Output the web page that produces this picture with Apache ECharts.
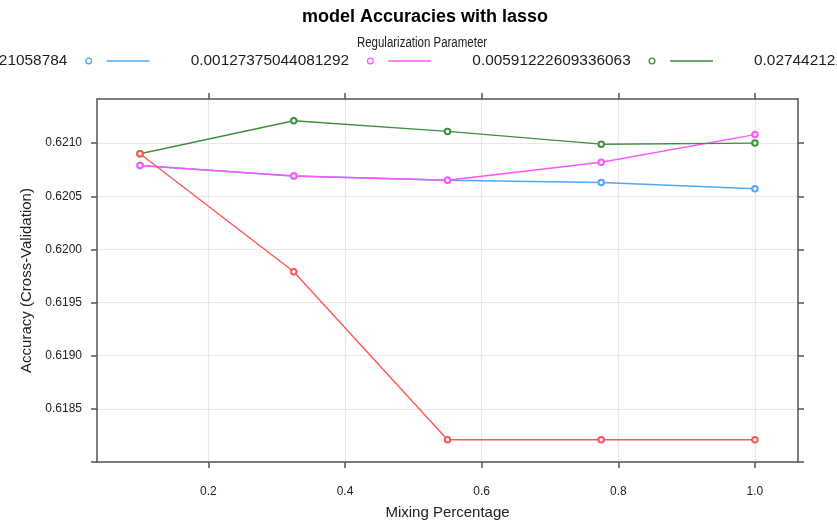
<!DOCTYPE html>
<html>
<head>
<meta charset="utf-8">
<script src="https://cdn.jsdelivr.net/npm/echarts@6/dist/echarts.min.js"></script>
<style>html,body{margin:0;padding:0;background:#fff}#c{width:837px;height:525px}</style>
</head>
<body>
<div id="c"></div>
<script>
// ---- data ----
const mixing = [0.1, 0.325, 0.55, 0.775, 1.0];
const lambdaNames = ['0.00027442121058784', '0.00127375044081292', '0.00591222609336063', '0.027442121058784'];
const accBlue    = [0.62079, 0.62069, 0.62065, 0.62063, 0.62057];
const accMagenta = [0.62079, 0.62069, 0.62065, 0.62082, 0.62108];
const accGreen   = [0.62090, 0.62121, 0.62111, 0.62099, 0.62100];
const accRed     = [0.62090, 0.61979, 0.61821, 0.61821, 0.61821];
const xTicks = [0.2, 0.4, 0.6, 0.8, 1.0];
const yTicks = [0.6180, 0.6185, 0.6190, 0.6195, 0.6200, 0.6205, 0.6210];
const yLabels = [0.6185, 0.6190, 0.6195, 0.6200, 0.6205, 0.6210];

const seriesValues = [accBlue, accMagenta, accGreen, accRed];
const colors = ['#4fa6ff', '#ff55ff', '#3f8f3f', '#ff5555'];

const FONT = '"Liberation Sans", Arial, sans-serif';
const AXC = '#555555';
const icon = 'path://M0,3.5 A3.5,3.5 0 1,1 7,3.5 A3.5,3.5 0 1,1 0,3.5 Z M1.3,3.5 A2.2,2.2 0 1,0 5.7,3.5 A2.2,2.2 0 1,0 1.3,3.5 Z M21.5,2.8 L64.5,2.8 L64.5,4.2 L21.5,4.2 Z';

const chart = echarts.init(document.getElementById('c'), null, {renderer: 'canvas'});
const option = {
  animation: false,
  color: colors,
  title: [
    {text: 'model Accuracies with lasso', left: 297, top: 3,
     textStyle: {fontFamily: FONT, fontSize: 18, fontWeight: 'bold', color: '#000'}}
  ],
  graphic: [
    {type: 'text', x: 422, y: 43, scaleX: 0.82, silent: true,
     style: {text: 'Regularization Parameter', align: 'center', verticalAlign: 'middle',
             fontFamily: FONT, fontSize: 14, fill: '#222'}}
  ],
  legend: {
    type: 'plain', orient: 'horizontal', left: -91, top: 53, width: 1600, padding: 0,
    align: 'right', itemGap: 41, itemWidth: 64.5, itemHeight: 7, icon: icon,
    itemStyle: {borderWidth: 0},
    formatter: n => n + '   ',
    textStyle: {fontFamily: FONT, fontSize: 15.4, color: '#1e1e1e', lineHeight: 16},
    data: lambdaNames
  },
  grid: {left: 97, right: 39, top: 99, bottom: 62, containLabel: false},
  xAxis: [
    {type: 'value', position: 'bottom', min: 0.037, max: 1.063,
     name: 'Mixing Percentage', nameLocation: 'middle', nameGap: 43,
     nameTextStyle: {fontFamily: FONT, fontSize: 15, color: '#222'},
     axisLine: {show: true, onZero: false, lineStyle: {color: AXC, width: 1.5}},
     axisTick: {show: true, inside: false, length: 6, customValues: xTicks, lineStyle: {color: AXC, width: 1.5}},
     axisLabel: {show: true, customValues: xTicks, margin: 24, fontFamily: FONT, fontSize: 12, color: '#222',
                 formatter: v => v.toFixed(1)},
     splitLine: {show: true, lineStyle: {color: '#e8e8e8', width: 1.2}}},
    {type: 'value', position: 'top', min: 0.037, max: 1.063,
     axisLine: {show: true, onZero: false, lineStyle: {color: AXC, width: 1.5}},
     axisTick: {show: true, inside: false, length: 6, customValues: xTicks, lineStyle: {color: AXC, width: 1.5}},
     axisLabel: {show: false}, splitLine: {show: false}}
  ],
  yAxis: [
    {type: 'value', position: 'left', min: 0.6180, max: 0.621415,
     name: 'Accuracy (Cross-Validation)', nameLocation: 'middle', nameGap: 61,
     nameTextStyle: {fontFamily: FONT, fontSize: 15, color: '#222'},
     axisLine: {show: true, onZero: false, lineStyle: {color: AXC, width: 1.5}},
     axisTick: {show: true, inside: false, length: 6, customValues: yTicks, lineStyle: {color: AXC, width: 1.5}},
     axisLabel: {show: true, customValues: yLabels, margin: 15, fontFamily: FONT, fontSize: 12, color: '#222',
                 formatter: v => v.toFixed(4)},
     splitLine: {show: true, lineStyle: {color: '#e8e8e8', width: 1.2}}},
    {type: 'value', position: 'right', min: 0.6180, max: 0.621415,
     axisLine: {show: true, onZero: false, lineStyle: {color: AXC, width: 1.5}},
     axisTick: {show: true, inside: false, length: 6, customValues: yTicks, lineStyle: {color: AXC, width: 1.5}},
     axisLabel: {show: false}, splitLine: {show: false}}
  ],
  series: lambdaNames.map((name, i) => ({
    name: name, type: 'line', xAxisIndex: 0, yAxisIndex: 0,
    data: mixing.map((x, j) => [x, seriesValues[i][j]]),
    symbol: 'emptyCircle', symbolSize: 5.5, showSymbol: true,
    lineStyle: {width: 1.4, color: colors[i]},
    itemStyle: {color: colors[i], borderWidth: 1.2},
    emphasis: {disabled: true}
  }))
};
chart.setOption(option);
</script>
</body>
</html>
